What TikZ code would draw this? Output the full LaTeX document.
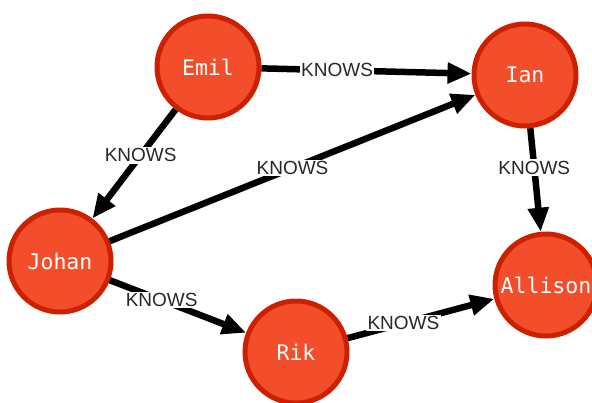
\documentclass[tikz,border=0pt]{standalone}
\usepackage{fontspec}
\setmainfont{Liberation Sans}
\newfontfamily\nodefont{DejaVu Sans Mono}
\usetikzlibrary{arrows.meta}
\definecolor{personfill}{RGB}{242,78,44}
\definecolor{personedge}{RGB}{204,32,0}
\definecolor{labelgray}{RGB}{40,40,40}
\tikzset{
  person/.style={circle, draw=personedge, fill=personfill, line width=5pt,
    minimum size=102pt, inner sep=0pt, text=white,
    font=\nodefont\fontsize{21.5}{24}\selectfont},
  rel/.style={line width=6.5pt, draw=black,
    -{Triangle[length=24pt,width=20pt]}},
  knows/.style={fill=white, inner sep=1.5pt, text=labelgray,
    font=\fontsize{19}{21}\selectfont}
}
\begin{document}
\begin{tikzpicture}[x=1pt,y=-1pt]
  \useasboundingbox (0,0) rectangle (592,402);
  % people
  \node[person] (emil)    at (208,67)  {Emil};
  \node[person] (ian)     at (525,75)  {Ian};
  \node[person] (johan)   at (60,261)  {Johan};
  \node[person] (allison) at (546,285) {Allison};
  \node[person] (rik)     at (296,352) {Rik};
  % relationships
  \draw[rel] (emil) -- node[knows, pos=0.36] {KNOWS} (ian);
  \draw[rel] (emil) -- node[knows, pos=0.42] {KNOWS} (johan);
  \draw[rel] (johan) -- node[knows, pos=0.5] {KNOWS} (ian);
  \draw[rel] (ian) -- node[knows, pos=0.38] {KNOWS} (allison);
  \draw[rel] (johan) -- node[knows, pos=0.38] {KNOWS} (rik);
  \draw[rel] (rik) -- node[knows, pos=0.38] {KNOWS} (allison);
\end{tikzpicture}
\end{document}
